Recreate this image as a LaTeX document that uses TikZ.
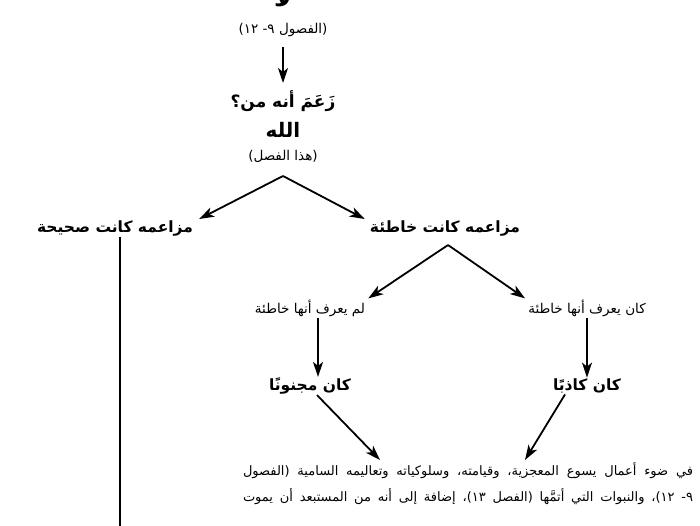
\documentclass[tikz,border=0pt]{standalone}
\usepackage{fontspec}
\newfontfamily\arabicfont[Script=Arabic]{DejaVu Sans}
\TeXXeTstate=1
\usetikzlibrary{arrows.meta,calc}
\newcommand{\rl}[1]{\beginR #1\endR}

\begin{document}
\begin{tikzpicture}[x=1pt,y=-1pt,
  arr/.style={-{Stealth[length=15pt,width=10pt,inset=4pt]}, line width=1.8pt},
  head/.style={font=\arabicfont\bfseries\fontsize{15.5}{18}\selectfont, inner sep=1pt},
  sub/.style={font=\arabicfont\fontsize{13.5}{15}\selectfont, inner sep=1pt}]
\useasboundingbox (0,0) rectangle (700,525);
% upper chain
\node[head, font=\arabicfont\bfseries\fontsize{24}{26}\selectfont] (la) at (283,-2) {\rl{لا}};
\node[sub] (chLa) at (283,30) {\rl{(الفصول ٩- ١٢)}};
\node[head, font=\arabicfont\bfseries\fontsize{17}{19}\selectfont] (claim) at (283,101) {\rl{زَعَمَ أنه من؟}};
\node[head, font=\arabicfont\bfseries\fontsize{20}{22}\selectfont] (god) at (283,130) {\rl{الله}};
\node[sub] (chThis) at (283,156) {\rl{(هذا الفصل)}};
\coordinate (forkTop) at (283,176);
% claims
\node[head] (true) at (115,228) {\rl{مزاعمه كانت صحيحة}};
\node[head] (false) at (445,228) {\rl{مزاعمه كانت خاطئة}};
\coordinate (forkFalse) at (448,245);
\coordinate (bottomEdge) at (120,530);
% false branch
\node[sub] (notknew) at (310,308) {\rl{لم يعرف أنها خاطئة}};
\node[sub] (knew) at (587,308) {\rl{كان يعرف أنها خاطئة}};
\node[head] (mad) at (310,386) {\rl{كان مجنونًا}};
\node[head] (liar) at (587,386) {\rl{كان كاذبًا}};
% conclusion
\node[inner sep=0pt, anchor=north, align=center, font=\arabicfont\fontsize{13}{26}\selectfont] (para) at (468,462)
{\hbox to 450pt{\rl{في ضوء أعمال يسوع المعجزية، وقيامته، وسلوكياته وتعاليمه السامية (الفصول}}\\
 \hbox to 450pt{\rl{٩- ١٢)، والنبوات التي أتمَّها (الفصل ١٣)، إضافة إلى أنه من المستبعد أن يموت}}};
% connectors
\draw[arr] (chLa.south |- 0,47) -- (claim.north |- 0,83);
\draw[arr] (forkTop) -- ($(true.north east)+(5,0)$);
\draw[arr] (forkTop) -- ($(false.north west)+(-4,0)$);
\draw[line width=1.8pt] (true.south -| bottomEdge) -- (bottomEdge);
\draw[arr] (forkFalse) -- ($(notknew.north east)+(2,0)$);
\draw[arr] (forkFalse) -- ($(knew.north west)+(-2,0)$);
\draw[arr] ([xshift=8pt]notknew.south) -- ([xshift=8pt]mad.north);
\draw[arr] (knew.south) -- (liar.north);
\draw[arr] ([xshift=7pt]mad.south) -- ($(para.north)+(-88,-2)$);
\draw[arr] ([xshift=-22pt]liar.south) -- ($(para.north)+(57,-2)$);
\end{tikzpicture}
\end{document}
